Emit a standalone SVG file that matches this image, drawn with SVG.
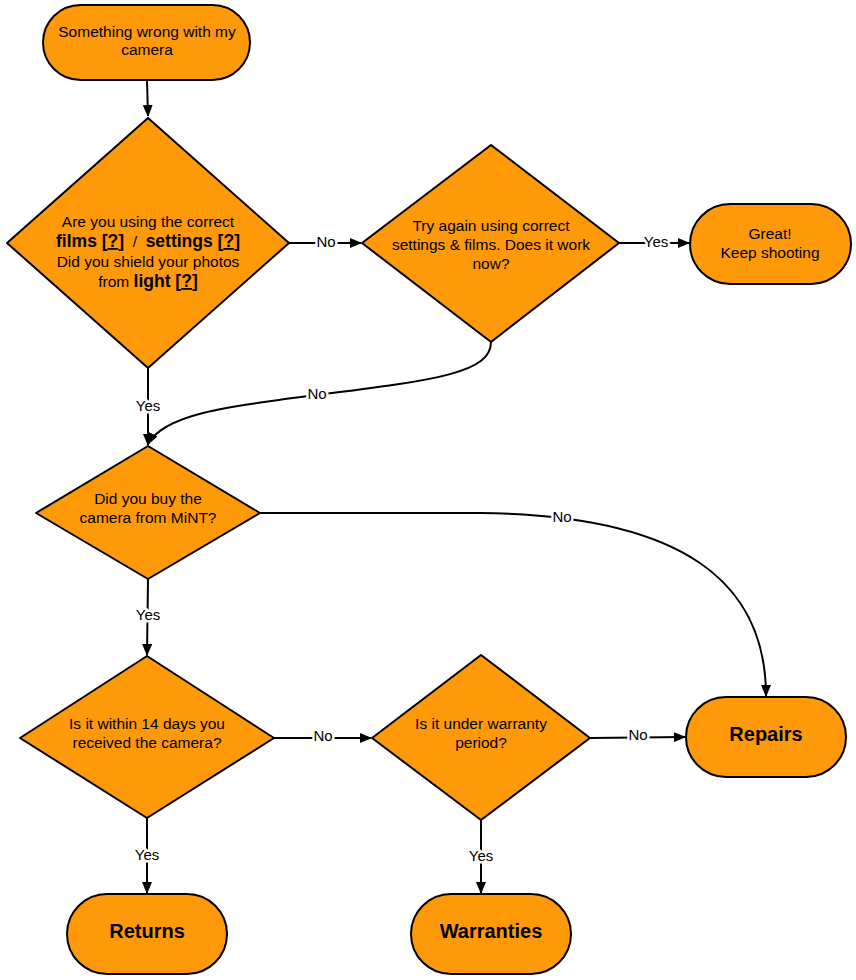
<svg xmlns="http://www.w3.org/2000/svg" width="856" height="980" viewBox="0 0 856 980">
<style>
.n{fill:#FE9A0A;stroke:#000;stroke-width:2;stroke-linejoin:round}
.t{font-family:"Liberation Sans",Arial,sans-serif;font-size:15.5px;fill:#000;text-anchor:middle}
.b{font-weight:bold;font-size:17.5px}
.big{font-family:"Liberation Sans",Arial,sans-serif;font-size:20px;font-weight:bold;fill:#000;text-anchor:middle}
.c{fill:none;stroke:#000;stroke-width:2}
.l{font-family:"Liberation Sans",Arial,sans-serif;font-size:15px;fill:#000;text-anchor:middle;stroke:#fff;stroke-width:5;paint-order:stroke;stroke-linejoin:round}
</style>
<defs>
<marker id="a" markerWidth="12" markerHeight="10" refX="11" refY="5" orient="auto" markerUnits="userSpaceOnUse">
<path d="M0,0 L12,5 L0,10 Z" fill="#000"/>
</marker>
</defs>
<g id="connectors">
<path class="c" d="M147,80 L148,116" marker-end="url(#a)"/>
<path class="c" d="M289,243 L361,243" marker-end="url(#a)"/>
<text class="l" x="326" y="247">No</text>
<path class="c" d="M619,243 L689,243" marker-end="url(#a)"/>
<text class="l" x="656" y="247">Yes</text>
<path class="c" d="M148,368 L148,445" marker-end="url(#a)"/>
<text class="l" x="148" y="411">Yes</text>
<path class="c" d="M491,342 C491,372 440,380 317,395 C240,405 165,412 148,444" marker-end="url(#a)"/>
<text class="l" x="317" y="399">No</text>
<path class="c" d="M260,513 L480,513 C680,515 766,580 766,696" marker-end="url(#a)"/>
<text class="l" x="562" y="522">No</text>
<path class="c" d="M148,579 L147,655" marker-end="url(#a)"/>
<text class="l" x="148" y="620">Yes</text>
<path class="c" d="M274,738 L371,738" marker-end="url(#a)"/>
<text class="l" x="323" y="741">No</text>
<path class="c" d="M590,738 L685,737" marker-end="url(#a)"/>
<text class="l" x="638" y="740">No</text>
<path class="c" d="M147,818 L147,893" marker-end="url(#a)"/>
<text class="l" x="147" y="860">Yes</text>
<path class="c" d="M481,820 L481,893" marker-end="url(#a)"/>
<text class="l" x="481" y="861">Yes</text>
</g>
<g id="start">
<rect class="n" x="43" y="5" width="207" height="75" rx="37.5"/>
<text class="t" x="147" y="37">Something wrong with my</text>
<text class="t" x="147" y="55">camera</text>
</g>
<g id="d1">
<path class="n" d="M148,118 L289,243 L148,368 L7,243 Z"/>
<text class="t" x="148" y="227">Are you using the correct</text>
<text class="t" x="148" y="247" xml:space="preserve"><tspan class="b">films [<tspan text-decoration="underline">?</tspan>]</tspan>  /  <tspan class="b">settings [<tspan text-decoration="underline">?</tspan>]</tspan></text>
<text class="t" x="148" y="267">Did you shield your photos</text>
<text class="t" x="148" y="287">from <tspan class="b">light [<tspan text-decoration="underline">?</tspan>]</tspan></text>
</g>
<g id="d2">
<path class="n" d="M491,145 L619,243 L491,342 L362,243 Z"/>
<text class="t" x="491" y="231">Try again using correct</text>
<text class="t" x="491" y="250">settings &amp; films. Does it work</text>
<text class="t" x="491" y="269">now?</text>
</g>
<g id="great">
<rect class="n" x="690" y="204" width="161" height="80" rx="40"/>
<text class="t" x="770" y="239">Great!</text>
<text class="t" x="770" y="258">Keep shooting</text>
</g>
<g id="d3">
<path class="n" d="M148,446 L260,513 L148,579 L36,513 Z"/>
<text class="t" x="148" y="504">Did you buy the</text>
<text class="t" x="148" y="523">camera from MiNT?</text>
</g>
<g id="d4">
<path class="n" d="M147,656 L274,738 L147,818 L20,738 Z"/>
<text class="t" x="147" y="729">Is it within 14 days you</text>
<text class="t" x="147" y="748">received the camera?</text>
</g>
<g id="d5">
<path class="n" d="M481,655 L590,738 L481,820 L372,738 Z"/>
<text class="t" x="481" y="729">Is it under warranty</text>
<text class="t" x="481" y="748">period?</text>
</g>
<g id="repairs">
<rect class="n" x="686" y="697" width="160" height="80" rx="40"/>
<text class="big" x="766" y="741">Repairs</text>
</g>
<g id="returns">
<rect class="n" x="67" y="894" width="160" height="80" rx="40"/>
<text class="big" x="147" y="938">Returns</text>
</g>
<g id="warranties">
<rect class="n" x="411" y="894" width="160" height="80" rx="40"/>
<text class="big" x="491" y="938">Warranties</text>
</g>
</svg>
